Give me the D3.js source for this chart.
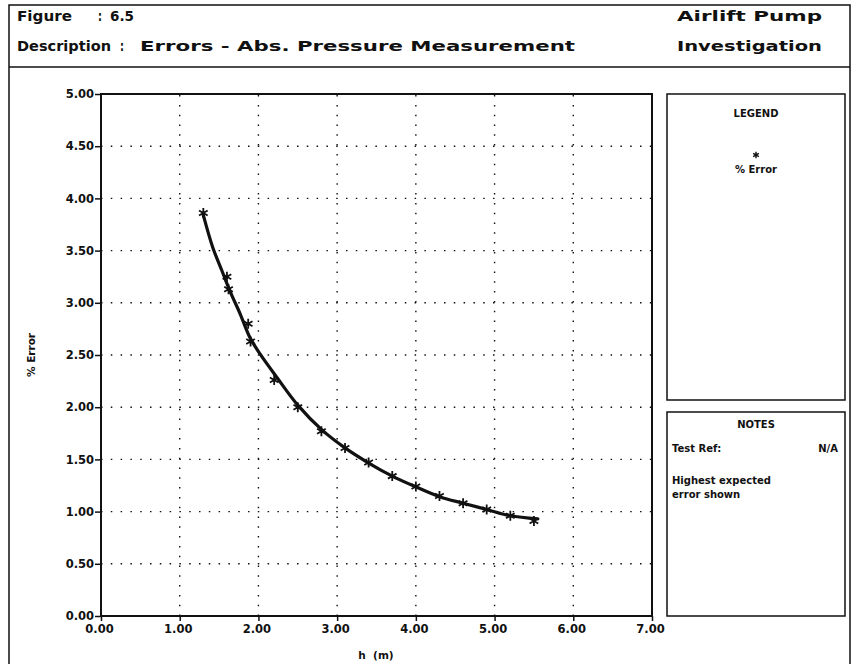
<!DOCTYPE html>
<html>
<head>
<meta charset="utf-8">
<script src="https://cdn.jsdelivr.net/npm/d3@7"></script>
<style>
  html, body { margin: 0; padding: 0; background: #fff; }
  svg { display: block; }
  text { fill: #111; }
</style>
</head>
<body>
<svg id="chart" width="856" height="664"></svg>
<script>
// Measured points: depth h (m) and highest expected % error
const hValues   = [1.30, 1.60, 1.62, 1.87, 1.90, 2.20, 2.50, 2.80, 3.10, 3.40, 3.70, 4.00, 4.30, 4.60, 4.90, 5.20, 5.50];
const errValues = [3.86, 3.25, 3.13, 2.80, 2.63, 2.26, 2.00, 1.77, 1.61, 1.47, 1.34, 1.24, 1.15, 1.08, 1.02, 0.96, 0.91];

// Fitted error curve
const fitH   = [1.30, 1.42, 1.54, 1.64, 1.77, 1.89, 2.02, 2.24, 2.50, 2.81, 3.10, 3.39, 3.70, 3.99, 4.31, 4.60, 4.90, 5.20, 5.55];
const fitErr = [3.84, 3.53, 3.30, 3.11, 2.89, 2.67, 2.51, 2.28, 2.02, 1.78, 1.61, 1.47, 1.34, 1.24, 1.14, 1.08, 1.02, 0.96, 0.93];

// Axis ticks
const xTicks = [0, 1, 2, 3, 4, 5, 6, 7];
const yTicks = [0, 0.5, 1, 1.5, 2, 2.5, 3, 3.5, 4, 4.5, 5];

const svg = d3.select("#chart");
const ink = "#111";
const labelFont = "'DejaVu Sans', Verdana, sans-serif";

// Plot area
const plot = { left: 101, right: 652, top: 94, bottom: 616 };
const x = d3.scaleLinear().domain([0, 7]).range([plot.left, plot.right]);
const y = d3.scaleLinear().domain([0, 5]).range([plot.bottom, plot.top]);

// Page frame and title block
svg.append("rect")
  .attr("x", 9).attr("y", 5).attr("width", 841).attr("height", 680)
  .attr("fill", "none").attr("stroke", ink).attr("stroke-width", 1.5);
svg.append("line")
  .attr("x1", 9).attr("x2", 850).attr("y1", 67).attr("y2", 67)
  .attr("stroke", ink).attr("stroke-width", 1.5);

function headText(str, xPos, yPos, len) {
  svg.append("text")
    .attr("x", xPos).attr("y", yPos)
    .attr("font-family", labelFont)
    .attr("font-size", 14)
    .attr("font-weight", "bold")
    .attr("textLength", len)
    .attr("lengthAdjust", "spacingAndGlyphs")
    .text(str);
}
headText("Figure", 17, 21, 55);
headText(":", 98, 21, 4);
headText("6.5", 110, 21, 24);
headText("Description", 17, 51, 94);
headText(":", 120, 51, 4);
headText("Errors - Abs. Pressure Measurement", 140, 51, 435);
headText("Airlift Pump", 677, 21, 145);
headText("Investigation", 677, 51, 145);

// Dotted grid
const grid = svg.append("g")
  .attr("stroke", ink).attr("stroke-width", 1.4)
  .attr("stroke-dasharray", "1.5,8.3");
grid.selectAll("line.gx")
  .data(xTicks.filter(t => t > 0 && t < 7))
  .join("line").attr("class", "gx")
  .attr("x1", d => x(d)).attr("x2", d => x(d))
  .attr("y1", plot.bottom).attr("y2", plot.top);
grid.selectAll("line.gy")
  .data(yTicks.filter(t => t > 0 && t < 5))
  .join("line").attr("class", "gy")
  .attr("x1", plot.left).attr("x2", plot.right)
  .attr("y1", d => y(d)).attr("y2", d => y(d));

// Axes
const xAxis = d3.axisBottom(x).tickValues(xTicks).tickFormat(d3.format(".2f"))
  .tickSize(5).tickPadding(4);
const yAxis = d3.axisLeft(y).tickValues(yTicks).tickFormat(d3.format(".2f"))
  .tickSize(6).tickPadding(1);

const gx = svg.append("g").attr("transform", `translate(0,${plot.bottom})`).call(xAxis);
const gy = svg.append("g").attr("transform", `translate(${plot.left},0)`).call(yAxis);
[gx, gy].forEach(g => {
  g.select(".domain").remove();
  g.selectAll(".tick line").attr("stroke", ink).attr("stroke-width", 1.5);
  g.selectAll(".tick text")
    .attr("fill", ink)
    .attr("font-family", labelFont)
    .attr("font-weight", "bold")
    .attr("font-size", 11.5);
});
gx.selectAll(".tick text").attr("dx", -2);

// Plot frame
svg.append("rect")
  .attr("x", plot.left).attr("y", plot.top)
  .attr("width", plot.right - plot.left).attr("height", plot.bottom - plot.top)
  .attr("fill", "none").attr("stroke", ink).attr("stroke-width", 2);

// Axis titles
svg.append("text")
  .attr("x", 376).attr("y", 659)
  .attr("text-anchor", "middle")
  .attr("font-family", labelFont).attr("font-weight", "bold").attr("font-size", 10.5)
  .attr("xml:space", "preserve")
  .text("h  (m)");
svg.append("text")
  .attr("transform", `translate(35,${(plot.top + plot.bottom) / 2}) rotate(-90)`)
  .attr("text-anchor", "middle")
  .attr("font-family", labelFont).attr("font-weight", "bold").attr("font-size", 10.5)
  .text("% Error");

// Fitted curve
const line = d3.line()
  .x((d, i) => x(fitH[i]))
  .y(d => y(d))
  .curve(d3.curveCatmullRom.alpha(0.5));
svg.append("path")
  .attr("d", line(fitErr))
  .attr("fill", "none").attr("stroke", ink)
  .attr("stroke-width", 3.2).attr("stroke-linecap", "round").attr("stroke-linejoin", "round");

// Star markers
const starType = d3.symbolAsterisk || d3.symbolCross;
const star = d3.symbol().type(starType).size(70);
svg.append("g")
  .selectAll("path")
  .data(errValues)
  .join("path")
  .attr("transform", (d, i) => `translate(${x(hValues[i])},${y(d)})`)
  .attr("d", star)
  .attr("fill", "none").attr("stroke", ink).attr("stroke-width", 1.8);

// Legend box
svg.append("rect")
  .attr("x", 667).attr("y", 94).attr("width", 178).attr("height", 306)
  .attr("fill", "none").attr("stroke", ink).attr("stroke-width", 1.5);
svg.append("text")
  .attr("x", 756).attr("y", 117).attr("text-anchor", "middle")
  .attr("font-family", labelFont).attr("font-size", 10).attr("font-weight", "bold")
  .text("LEGEND");
svg.append("path")
  .attr("transform", "translate(756,155)")
  .attr("d", d3.symbol().type(starType).size(30))
  .attr("fill", "none").attr("stroke", ink).attr("stroke-width", 1.4);
svg.append("text")
  .attr("x", 756).attr("y", 173).attr("text-anchor", "middle")
  .attr("font-family", labelFont).attr("font-size", 10).attr("font-weight", "bold")
  .text("% Error");

// Notes box
svg.append("rect")
  .attr("x", 667).attr("y", 412).attr("width", 178).attr("height", 204)
  .attr("fill", "none").attr("stroke", ink).attr("stroke-width", 1.5);
const notes = [
  { t: "NOTES", x: 756, y: 428, anchor: "middle" },
  { t: "Test Ref:", x: 672, y: 452, anchor: "start" },
  { t: "N/A", x: 838, y: 452, anchor: "end" },
  { t: "Highest expected", x: 672, y: 484, anchor: "start" },
  { t: "error shown", x: 672, y: 498, anchor: "start" }
];
svg.append("g").selectAll("text")
  .data(notes)
  .join("text")
  .attr("x", d => d.x).attr("y", d => d.y)
  .attr("text-anchor", d => d.anchor)
  .attr("font-family", labelFont).attr("font-size", 10).attr("font-weight", "bold")
  .text(d => d.t);
</script>
</body>
</html>
